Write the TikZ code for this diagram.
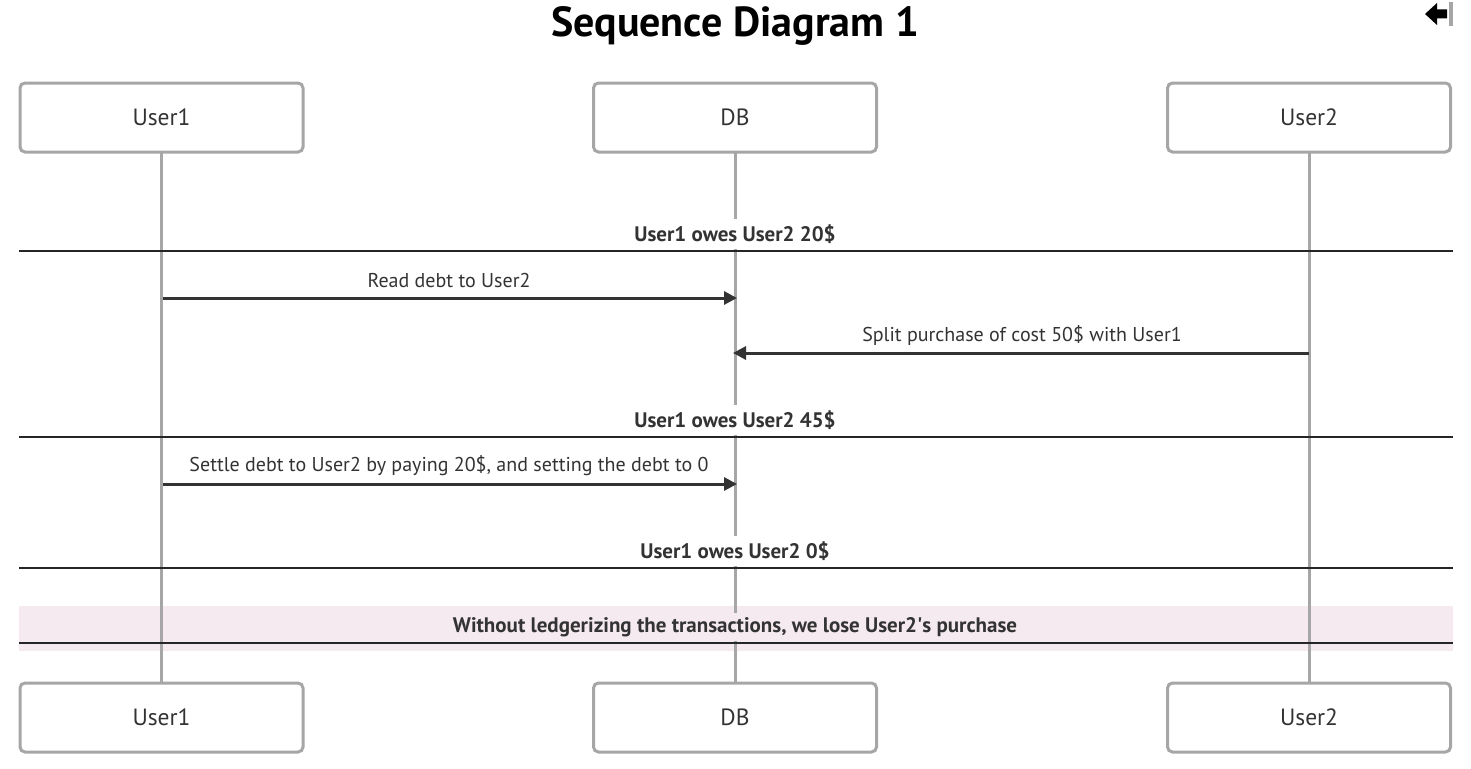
\documentclass[tikz,border=0pt]{standalone}
\usepackage{fontspec}
\setmainfont{PT Sans}
\usetikzlibrary{arrows.meta}
\definecolor{txt}{HTML}{333333}
\definecolor{boxgray}{HTML}{A6A6A6}
\definecolor{lifegray}{HTML}{A6A6A6}
\definecolor{bandpink}{HTML}{F5EAF0}
\tikzset{
  actor/.style={draw=boxgray, line width=3pt, rounded corners=5pt, fill=white,
    minimum width=283pt, minimum height=69pt, inner sep=0pt, text=txt,
    font=\fontsize{23.5}{28}\selectfont},
  life/.style={draw=lifegray, line width=3pt},
  msg/.style={draw=txt, line width=3pt, -{Triangle[length=13pt,width=13pt]}},
  msglabel/.style={text=txt, font=\fontsize{20}{24}\selectfont, inner sep=0pt},
  divider/.style={draw=black!85, line width=1.2pt},
  divlabel/.style={text=txt, font=\bfseries\fontsize{21}{25}\selectfont, fill=white,
    inner xsep=4pt, minimum height=30pt},
}
\begin{document}
\begin{tikzpicture}[x=1pt,y=-1pt]
\useasboundingbox (0,0) rectangle (1471,768);
% title
\node[font=\bfseries\fontsize{42}{48}\selectfont, text=black] (title) at (735,26) {Sequence Diagram 1};
% icon
\fill[black] (1425,14) -- (1437,3) -- (1437,9.5) -- (1447,9.5) -- (1447,18.5) -- (1437,18.5) -- (1437,25) -- cycle;
\fill[boxgray] (1449,2) rectangle (1453,26);
% pink band
\fill[bandpink] (19,606) rectangle (1453,651);
% lifelines
\coordinate (l1t) at (161,152); \coordinate (l1b) at (161,683);
\coordinate (l2t) at (735,152); \coordinate (l2b) at (735,683);
\coordinate (l3t) at (1309,152); \coordinate (l3b) at (1309,683);
\draw[life] (l1t) -- (l1b);
\draw[life] (l2t) -- (l2b);
\draw[life] (l3t) -- (l3b);
% dividers
\foreach \y/\n in {251/d1,437/d2,568/d3,643/d4}{
  \coordinate (\n l) at (19,\y); \coordinate (\n r) at (1453,\y);
  \draw[divider] (\n l) -- (\n r);
}
\node[divlabel] (n1) at (735,234) {User1 owes User2 20\$};
\node[divlabel] (n2) at (735,420) {User1 owes User2 45\$};
\node[divlabel] (n3) at (735,551) {User1 owes User2 0\$};
\node[divlabel, fill=bandpink, minimum height=28pt] (n4) at (735,627) {Without ledgerizing the transactions, we lose User2\textquotesingle s purchase};
% messages
\coordinate (m1s) at (163,298); \coordinate (m1e) at (737,298);
\draw[msg] (m1s) -- (m1e);
\node[msglabel] (t1) at (449,280) {Read debt to User2};
\coordinate (m2s) at (1309,353); \coordinate (m2e) at (733,353);
\draw[msg] (m2s) -- (m2e);
\node[msglabel] (t2) at (1022,335) {Split purchase of cost 50\$ with User1};
\coordinate (m3s) at (163,484); \coordinate (m3e) at (737,484);
\draw[msg] (m3s) -- (m3e);
\node[msglabel] (t3) at (449,466) {Settle debt to User2 by paying 20\$, and setting the debt to 0};
% actors
\node[actor] (u1top) at (161.5,117.5) {User1};
\node[actor] (dbtop) at (735,117.5) {DB};
\node[actor] (u2top) at (1309,117.5) {User2};
\node[actor] (u1bot) at (161.5,717.5) {User1};
\node[actor] (dbbot) at (735,717.5) {DB};
\node[actor] (u2bot) at (1309,717.5) {User2};
\end{tikzpicture}
\end{document}
